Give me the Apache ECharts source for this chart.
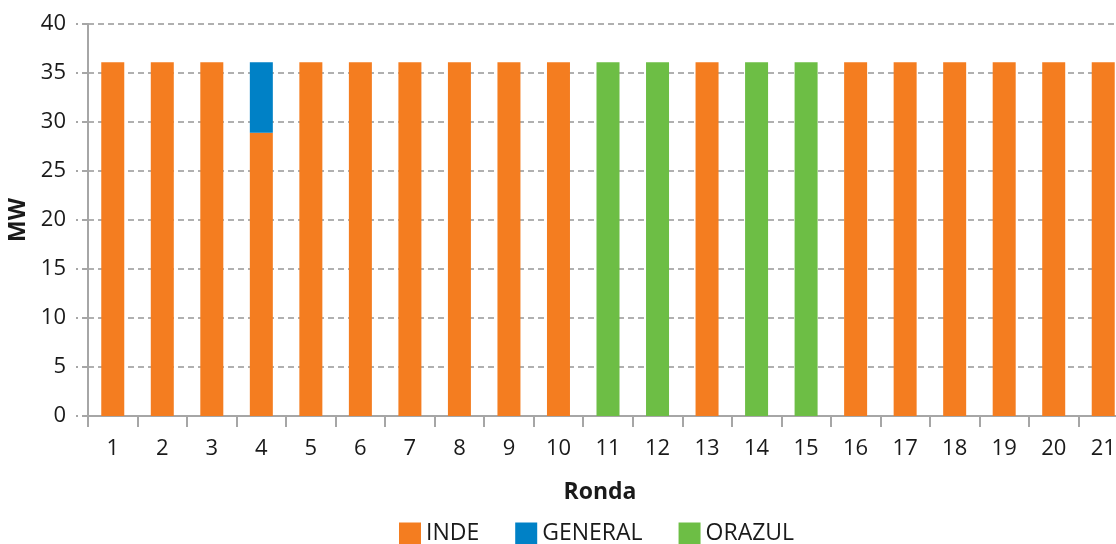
<!DOCTYPE html>
<html>
<head>
<meta charset="utf-8">
<script src="https://cdn.jsdelivr.net/npm/echarts@6/dist/echarts.min.js"></script>
<style>
  html, body { margin: 0; padding: 0; background: #fff; }
  #chart { width: 1116px; height: 544px; }
</style>
</head>
<body>
<div id="chart"></div>
<script>
// 分类（轮次）
const rondas = ['1','2','3','4','5','6','7','8','9','10','11','12','13','14','15','16','17','18','19','20','21'];
// 各公司 MW
const inde    = [36.1, 36.1, 36.1, 28.9, 36.1, 36.1, 36.1, 36.1, 36.1, 36.1, 0, 0, 36.1, 0, 0, 36.1, 36.1, 36.1, 36.1, 36.1, 36.1];
const general = [0, 0, 0, 7.2, 0, 0, 0, 0, 0, 0, 0, 0, 0, 0, 0, 0, 0, 0, 0, 0, 0];
const orazul  = [0, 0, 0, 0, 0, 0, 0, 0, 0, 0, 36.1, 36.1, 0, 36.1, 36.1, 0, 0, 0, 0, 0, 0];
const yTicks = { min: 0, max: 40, interval: 5 };

const grey = '#a6a6a6';
const txt = '#1a1a1a';
const font = '"Open Sans", "Noto Sans", sans-serif';

let myChart = echarts.init(document.getElementById('chart'));
myChart.setOption({
  animation: false,
  textStyle: { fontFamily: font },
  grid: { left: 88, top: 24, bottom: 128, width: 1040, containLabel: false, outerBoundsMode: 'none' },
  legend: {
    top: 522,
    left: 399,
    padding: 0,
    itemWidth: 22,
    itemHeight: 22,
    itemGap: 36,
    icon: 'rect',
    textStyle: { fontSize: 23, color: txt, fontFamily: font },
    data: ['INDE', 'GENERAL', 'ORAZUL']
  },
  xAxis: {
    type: 'category',
    data: rondas,
    name: 'Ronda',
    nameLocation: 'middle',
    nameGap: 65,
    nameTextStyle: { fontSize: 23, fontWeight: 'bold', color: txt, padding: [0, 16, 0, 0] },
    axisLine: { lineStyle: { color: grey, width: 2 } },
    axisTick: { show: true, length: 11, lineStyle: { color: grey, width: 2 } },
    axisLabel: { fontSize: 22, color: txt, margin: 22 }
  },
  yAxis: {
    type: 'value',
    min: yTicks.min,
    max: yTicks.max,
    interval: yTicks.interval,
    name: 'MW',
    nameLocation: 'middle',
    nameGap: 55,
    nameRotate: 90,
    nameTextStyle: { fontSize: 23, fontWeight: 'bold', color: txt },
    axisLine: { show: true, lineStyle: { color: grey, width: 2 } },
    axisTick: { show: true, length: 12, lineStyle: { color: grey, type: [6, 4], width: 2 } },
    axisLabel: { fontSize: 22, color: txt, margin: 22 },
    splitLine: { show: true, lineStyle: { color: '#b0b0b0', type: [6, 4], width: 2 } }
  },
  series: [
    { name: 'INDE', type: 'bar', stack: 'mw', barWidth: 23, data: inde, itemStyle: { color: '#F47D20' } },
    { name: 'GENERAL', type: 'bar', stack: 'mw', barWidth: 23, data: general, itemStyle: { color: '#0081C6' } },
    { name: 'ORAZUL', type: 'bar', stack: 'mw', barWidth: 23, data: orazul, itemStyle: { color: '#6DBE45' } }
  ]
});
</script>
</body>
</html>
